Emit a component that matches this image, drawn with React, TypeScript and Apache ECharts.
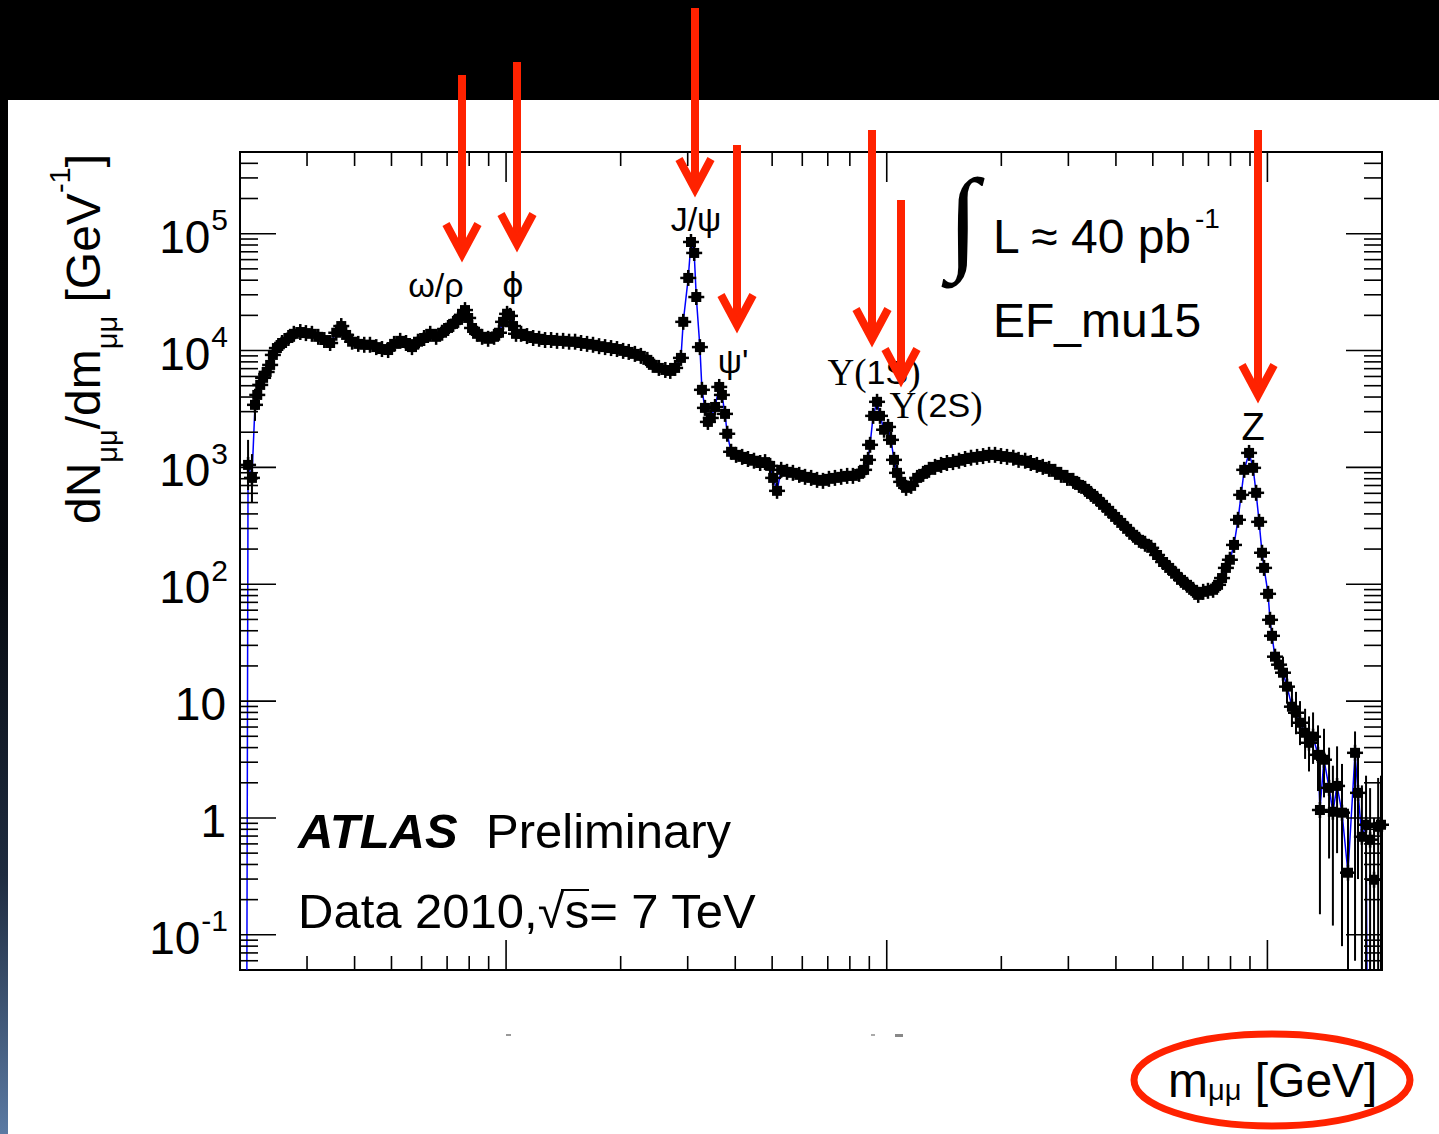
import React, { useEffect, useRef } from "react";
import * as echarts from "echarts";

// ---------- data ----------
const massGeV = [
  0.210, 0.215, 0.219, 0.222, 0.226, 0.230, 0.235, 0.240, 0.244, 0.250,
  0.258, 0.268, 0.277, 0.288, 0.298, 0.309, 0.321, 0.333, 0.345, 0.358,
  0.369, 0.380, 0.394, 0.409, 0.424, 0.439, 0.456, 0.472, 0.490, 0.508,
  0.527, 0.546, 0.566, 0.587, 0.609, 0.632, 0.655, 0.679, 0.704, 0.726,
  0.748, 0.766, 0.780, 0.795, 0.814, 0.839, 0.865, 0.897, 0.930, 0.958,
  0.982, 1.006, 1.024, 1.043, 1.062, 1.095, 1.135, 1.178, 1.221, 1.266,
  1.313, 1.361, 1.412, 1.464, 1.518, 1.574, 1.632, 1.692, 1.755, 1.820,
  1.887, 1.956, 2.03, 2.10, 2.18, 2.26, 2.35, 2.43, 2.52, 2.62,
  2.70, 2.78, 2.88, 2.92, 3.01, 3.06, 3.12, 3.16, 3.23, 3.27,
  3.33, 3.39, 3.45, 3.54, 3.63, 3.69, 3.76, 3.81, 3.90, 4.02,
  4.17, 4.32, 4.48, 4.65, 4.79, 4.94, 5.03, 5.15, 5.28, 5.47,
  5.67, 5.89, 6.10, 6.33, 6.56, 6.80, 7.05, 7.31, 7.59, 7.87,
  8.15, 8.46, 8.72, 8.93, 9.04, 9.21, 9.43, 9.60, 9.84, 10.08,
  10.26, 10.45, 10.64, 10.91, 11.24, 11.59, 12.02, 12.46, 12.91, 13.39,
  13.89, 14.39, 14.93, 15.48, 16.06, 16.65, 17.27, 17.91, 18.57, 19.25,
  19.96, 20.7, 21.5, 22.2, 23.1, 23.9, 24.8, 25.7, 26.7, 27.7,
  28.7, 29.8, 30.9, 32.0, 33.2, 34.4, 35.7, 37.0, 38.4, 39.8,
  41.3, 42.8, 44.4, 46.0, 47.7, 49.5, 51.3, 53.2, 55.2, 57.2,
  59.3, 61.5, 63.8, 65.8, 67.8, 69.8, 72.0, 74.2, 76.0, 77.8,
  79.7, 81.7, 83.7, 85.3, 86.9, 89.5, 91.7, 93.4, 95.1, 96.8,
  98.0, 100.4, 101.6, 102.8, 104.7, 107.3, 109.9, 112.6, 116.0, 118.9,
  121.8, 125.6, 128.6, 131.8, 135.8, 137.4, 140.8, 145.2, 148.6, 152.4,
  157.0, 162.8, 169.9, 173.0, 177.1, 181.6, 186.1, 190.6, 195.4, 198.8,
];
const dNdm = [
  1050, 813, 3430, 4170, 5080, 5840, 6560, 7530, 9170, 10500,
  11600, 12800, 13900, 14400, 14100, 13900, 13100, 12300, 11600, 14200,
  16200, 13600, 11900, 11400, 11200, 11200, 10700, 10300, 10100, 11400,
  12100, 11600, 10700, 11900, 12800, 13900, 13100, 14200, 15600, 16900,
  18300, 20200, 22200, 19000, 15600, 13900, 13100, 12600, 13100, 14200,
  17600, 20600, 19800, 16200, 13900, 13900, 13300, 12800, 12600, 12300,
  12300, 12100, 12100, 11900, 11900, 11600, 11400, 11200, 10900, 10700,
  10500, 10300, 9930, 9730, 9360, 9000, 8320, 7540, 7100, 6820,
  6690, 7100, 8650, 17600, 41800, 84900, 68400, 28700, 10700, 4610,
  3230, 2450, 2650, 3290, 4880, 4170, 2870, 1940, 1360, 1280,
  1230, 1180, 1140, 1090, 1110, 1030, 813, 630, 953, 916,
  898, 863, 830, 813, 782, 767, 798, 813, 830, 846,
  846, 880, 953, 1160, 1560, 2760, 3640, 2760, 2100, 2220,
  1720, 1160, 898, 752, 668, 695, 813, 880, 953, 1010,
  1050, 1090, 1110, 1140, 1180, 1210, 1230, 1250, 1280, 1280,
  1250, 1230, 1210, 1160, 1140, 1090, 1050, 1010, 971, 916,
  863, 813, 767, 708, 655, 593, 538, 478, 425, 377,
  335, 298, 265, 240, 222, 205, 178, 155, 138, 123,
  109, 98.9, 89.6, 81.1, 86.1, 87.9, 89.6, 98.9, 113, 138,
  162, 217, 356, 582, 953, 1330, 991, 606, 342, 186,
  138, 82.8, 49.6, 36.2, 24.0, 20.5, 17.5, 13.3, 8.96, 7.95,
  6.53, 5.36, 4.40, 4.96, 3.47, 1.17, 3.15, 1.81, 1.13, 1.88,
  1.11, 0.340, 3.61, 1.64, 0.69, 0.875, 0.652, 0.296, 0.84, 0.875,
];
// points with visible vertical error bars
const errMassGeV = [
  0.210, 0.215, 0.219, 0.222, 0.226, 0.230, 0.240, 0.250,
  109.9, 112.6, 116.0, 118.9, 121.8, 125.6, 128.6, 131.8, 135.8, 137.4,
  140.8, 145.2, 148.6, 152.4, 157.0, 162.8, 169.9, 173.0, 177.1, 181.6,
  186.1, 190.6, 195.4, 198.8,
];
const errLow = [
  640, 500, 2500, 3100, 4000, 4700, 6300, 9000,
  12.5, 9.5, 6.0, 5.2, 4.2, 3.2, 2.5, 2.9, 1.7, 0.15,
  1.5, 0.45, 0.12, 0.5, 0.08, 0.05, 0.06, 0.3, 0.05, 0.05,
  0.05, 0.05, 0.05, 0.05,
];
const errHigh = [
  1720, 1300, 4700, 5600, 6400, 7200, 9000, 12200,
  24, 18.5, 13.2, 12, 10, 8.6, 7.4, 8, 6.2, 2.9,
  5.8, 4, 2.8, 4.1, 2.9, 1.2, 5.5, 3.8, 1.9, 2.3,
  1.8, 1.0, 2.2, 2.3,
];
// blue simulation curve: follows the data, with its two drops to the axis floor
const fitLowEdge = [0.2085, 0.05];
const fitHighEdge = [182.6, 0.05];

const xMajorTicks = [1, 10, 100];
const xMinorTicks = [0.3, 0.4, 0.5, 0.6, 0.7, 0.8, 0.9, 2, 3, 4, 5, 6, 7, 8, 9, 20, 30, 40, 50, 60, 70, 80, 90];
const yMajorTicks = [0.1, 1, 10, 100, 1000, 10000, 100000];
const yMinorTicks = [
  0.06, 0.07, 0.08, 0.09, 0.2, 0.3, 0.4, 0.5, 0.6, 0.7, 0.8, 0.9,
  2, 3, 4, 5, 6, 7, 8, 9, 20, 30, 40, 50, 60, 70, 80, 90,
  200, 300, 400, 500, 600, 700, 800, 900, 2000, 3000, 4000, 5000, 6000, 7000, 8000, 9000,
  20000, 30000, 40000, 50000, 60000, 70000, 80000, 90000, 200000, 300000, 400000,
];

const X_MIN = 0.2;
const X_MAX = 200;
const Y_MIN = 0.05;
const Y_MAX = 500000;

const SANS = '"Liberation Sans", Arial, Helvetica, sans-serif';
const SERIF = '"Liberation Serif", "DejaVu Serif", serif';
const RED = "#ff2200";

function arrow(x: number, top: number, tip: number) {
  const apex = tip - 8;
  return [
    {
      type: "line",
      z: 50,
      shape: { x1: x, y1: top, x2: x, y2: apex - 4 },
      style: { stroke: RED, lineWidth: 8 },
    },
    {
      type: "polyline",
      z: 50,
      shape: { points: [[x - 16, apex - 30], [x, apex], [x + 16, apex - 30]] },
      style: { stroke: RED, lineWidth: 8, fill: "none", lineJoin: "miter" },
    },
  ];
}

function txt(x: number, y: number, text: string, size: number, extra: any = {}) {
  return {
    type: "text",
    z: 40,
    x,
    y,
    style: {
      text,
      fontSize: size,
      fontFamily: SANS,
      fill: "#000",
      align: "center",
      verticalAlign: "middle",
      ...extra,
    },
  };
}

export default function App() {
  const ref = useRef<HTMLDivElement>(null);

  useEffect(() => {
    if (!ref.current) return;
    const chart = echarts.init(ref.current, null, { renderer: "svg" });

    const points = massGeV.map((m, i) => [m, dNdm[i]]);
    const fitLine = [fitLowEdge, ...points.filter((p) => p[0] <= 181.6), fitHighEdge];
    const errData = errMassGeV.map((m, i) => [m, errLow[i], errHigh[i]]);
    const xTickData = [
      ...xMajorTicks.map((v) => [v, 1, 1]),
      ...xMinorTicks.map((v) => [v, 1, 0]),
    ];
    const yTickData = [
      ...yMajorTicks.map((v) => [1, v, 1]),
      ...yMinorTicks.map((v) => [1, v, 0]),
    ];

    const option: any = {
      animation: false,
      backgroundColor: "#ffffff",
      grid: {
        left: 240,
        top: 152,
        width: 1142,
        height: 818,
        show: true,
        borderColor: "#000",
        borderWidth: 2,
        backgroundColor: "transparent",
      },
      xAxis: {
        type: "log",
        logBase: 10,
        min: X_MIN,
        max: X_MAX,
        axisLine: { show: false },
        axisTick: { show: false },
        axisLabel: { show: false },
        splitLine: { show: false },
      },
      yAxis: {
        type: "log",
        logBase: 10,
        min: Y_MIN,
        max: Y_MAX,
        axisLine: { show: false },
        axisTick: { show: false },
        axisLabel: { show: false },
        splitLine: { show: false },
      },
      series: [
        {
          type: "line",
          data: fitLine,
          showSymbol: false,
          symbol: "none",
          lineStyle: { color: "#0000ff", width: 1.5 },
          z: 2,
          silent: true,
          clip: true,
        },
        {
          type: "custom",
          data: errData,
          encode: { x: 0, y: [1, 2] },
          z: 3,
          silent: true,
          renderItem: (_p: any, api: any) => {
            const m = api.value(0);
            const a = api.coord([m, api.value(1)]);
            const b = api.coord([m, api.value(2)]);
            return {
              type: "line",
              shape: { x1: a[0], y1: a[1], x2: b[0], y2: b[1] },
              style: { stroke: "#000", lineWidth: 2 },
            };
          },
        },
        {
          type: "custom",
          data: points,
          encode: { x: 0, y: 1 },
          z: 4,
          silent: true,
          renderItem: (_p: any, api: any) => {
            const c = api.coord([api.value(0), api.value(1)]);
            return {
              type: "group",
              children: [
                { type: "rect", shape: { x: c[0] - 5, y: c[1] - 5, width: 10, height: 10 }, style: { fill: "#000" } },
                { type: "line", shape: { x1: c[0] - 8, y1: c[1], x2: c[0] + 8, y2: c[1] }, style: { stroke: "#000", lineWidth: 2.5 } },
                { type: "line", shape: { x1: c[0], y1: c[1] - 8, x2: c[0], y2: c[1] + 8 }, style: { stroke: "#000", lineWidth: 2.5 } },
              ],
            };
          },
        },
        {
          type: "custom",
          data: xTickData,
          encode: { x: 0, y: 1 },
          z: 5,
          silent: true,
          renderItem: (_p: any, api: any) => {
            const v = api.value(0);
            const len = api.value(2) ? 30 : 14;
            const b = api.coord([v, Y_MIN]);
            const t = api.coord([v, Y_MAX]);
            return {
              type: "group",
              children: [
                { type: "line", shape: { x1: b[0], y1: b[1], x2: b[0], y2: b[1] - len }, style: { stroke: "#000", lineWidth: 1.6 } },
                { type: "line", shape: { x1: t[0], y1: t[1], x2: t[0], y2: t[1] + len }, style: { stroke: "#000", lineWidth: 1.6 } },
              ],
            };
          },
        },
        {
          type: "custom",
          data: yTickData,
          encode: { x: 0, y: 1 },
          z: 5,
          silent: true,
          renderItem: (_p: any, api: any) => {
            const v = api.value(1);
            const len = api.value(2) ? 36 : 18;
            const l = api.coord([X_MIN, v]);
            const r = api.coord([X_MAX, v]);
            return {
              type: "group",
              children: [
                { type: "line", shape: { x1: l[0], y1: l[1], x2: l[0] + len, y2: l[1] }, style: { stroke: "#000", lineWidth: 1.6 } },
                { type: "line", shape: { x1: r[0], y1: r[1], x2: r[0] - len, y2: r[1] }, style: { stroke: "#000", lineWidth: 1.6 } },
              ],
            };
          },
        },
        {
          type: "custom",
          data: yMajorTicks.map((v) => [X_MIN, v]),
          encode: { x: 0, y: 1 },
          z: 5,
          silent: true,
          renderItem: (_p: any, api: any) => {
            const v = api.value(1);
            const c = api.coord([X_MIN, v]);
            const k = Math.round(Math.log10(v));
            const xr = c[0] - 12;
            const yc = c[1] + 3;
            if (k === 0 || k === 1) {
              return {
                type: "text",
                x: xr - 2,
                y: yc,
                style: { text: k === 0 ? "1" : "10", fontSize: 46, fontFamily: SANS, fill: "#000", align: "right", verticalAlign: "middle" },
              };
            }
            const sup = String(k);
            // Liberation Sans advance widths: digits 0.556em, minus 0.333em
            const supW = 30 * (sup.length === 2 ? 0.889 : 0.556);
            return {
              type: "group",
              children: [
                {
                  type: "text",
                  x: xr - supW - 1,
                  y: yc,
                  style: { text: "10", fontSize: 46, fontFamily: SANS, fill: "#000", align: "right", verticalAlign: "middle" },
                },
                {
                  type: "text",
                  x: xr - supW,
                  y: yc - 17,
                  style: { text: sup, fontSize: 30, fontFamily: SANS, fill: "#000", align: "left", verticalAlign: "middle" },
                },
              ],
            };
          },
        },
      ],
      graphic: [
        { type: "rect", z: 1, shape: { x: 0, y: 0, width: 1439, height: 100 }, style: { fill: "#000" } },
        {
          type: "rect",
          z: 1,
          shape: { x: 0, y: 100, width: 8, height: 1034 },
          style: {
            fill: new echarts.graphic.LinearGradient(0, 0, 0, 1, [
              { offset: 0, color: "#000000" },
              { offset: 0.45, color: "#05080d" },
              { offset: 0.75, color: "#1f2c40" },
              { offset: 1, color: "#5b7aa3" },
            ]),
          },
        },
        // y-axis title
        {
          type: "text",
          z: 40,
          x: 83,
          y: 339,
          rotation: Math.PI / 2,
          style: {
            text: "{b|dN}{u|μμ}{b|/dm}{u|μμ}{b| [GeV}{s|-1}{b|]}",
            align: "center",
            verticalAlign: "middle",
            rich: {
              b: { fontSize: 48, fontFamily: SANS, fill: "#000", lineHeight: 76 },
              u: { fontSize: 29, fontFamily: SANS, fill: "#000", lineHeight: 50, verticalAlign: "bottom" },
              s: { fontSize: 29, fontFamily: SANS, fill: "#000", lineHeight: 28, verticalAlign: "top" },
            },
          },
        },
        // x-axis title
        {
          type: "text",
          z: 40,
          x: 1168,
          y: 1080,
          style: {
            text: "{b|m}{u|μμ}{b| [GeV]}",
            align: "left",
            verticalAlign: "middle",
            rich: {
              b: { fontSize: 48, fontFamily: SANS, fill: "#000", lineHeight: 48 },
              u: { fontSize: 29, fontFamily: SANS, fill: "#000", lineHeight: 22, verticalAlign: "bottom" },
            },
          },
        },
        {
          type: "ellipse",
          z: 41,
          shape: { cx: 1272, cy: 1080, rx: 138, ry: 46 },
          style: { fill: "none", stroke: RED, lineWidth: 7 },
        },
        // ATLAS label
        txt(298, 831, "ATLAS", 49, { align: "left", fontWeight: "bold", fontStyle: "italic" }),
        txt(486, 831, "Preliminary", 49, { align: "left" }),
        txt(298, 911, "Data 2010,√s= 7 TeV", 49, { align: "left" }),
        { type: "line", z: 40, shape: { x1: 561, y1: 890, x2: 589, y2: 890 }, style: { stroke: "#000", lineWidth: 2 } },
        // luminosity
        txt(963, 219, "∫", 114, { fontFamily: SERIF }),
        txt(993, 236, "L ≈ 40 pb", 48, { align: "left" }),
        txt(1195, 218, "-1", 28, { align: "left" }),
        txt(993, 320, "EF_mu15", 48, { align: "left" }),
        // resonance labels
        txt(436, 285, "ω/ρ", 34),
        txt(513, 285, "ϕ", 33, { fontFamily: '"DejaVu Sans", sans-serif' }),
        txt(696, 219, "J/ψ", 34),
        txt(733, 361, "ψ'", 34),
        {
          type: "text",
          z: 40,
          x: 874,
          y: 372,
          style: {
            text: "{u|Υ(}{n|1S}{u|)}",
            align: "center",
            verticalAlign: "middle",
            rich: {
              u: { fontSize: 37, fontFamily: SERIF, fill: "#000" },
              n: { fontSize: 34, fontFamily: SANS, fill: "#000" },
            },
          },
        },
        {
          type: "text",
          z: 40,
          x: 936,
          y: 405,
          style: {
            text: "{u|Υ(}{n|2S}{u|)}",
            align: "center",
            verticalAlign: "middle",
            rich: {
              u: { fontSize: 37, fontFamily: SERIF, fill: "#000" },
              n: { fontSize: 34, fontFamily: SANS, fill: "#000" },
            },
          },
        },
        txt(1253, 427, "Z", 38),
        // residual marks below the axis
        { type: "rect", z: 1, shape: { x: 506, y: 1034, width: 5, height: 2 }, style: { fill: "#999" } },
        { type: "rect", z: 1, shape: { x: 871, y: 1034, width: 4, height: 2 }, style: { fill: "#aaa" } },
        { type: "rect", z: 1, shape: { x: 895, y: 1034, width: 8, height: 3 }, style: { fill: "#888" } },
        // arrows
        ...arrow(462, 75, 262),
        ...arrow(517, 62, 252),
        ...arrow(695, 8, 197),
        ...arrow(737, 145, 333),
        ...arrow(872, 130, 347),
        ...arrow(901, 200, 387),
        ...arrow(1258, 130, 403),
      ],
    };

    chart.setOption(option);
    return () => chart.dispose();
  }, []);

  return (
    <div
      ref={ref}
      style={{ position: "absolute", left: 0, top: 0, width: 1439, height: 1134, background: "#fff" }}
    />
  );
}
